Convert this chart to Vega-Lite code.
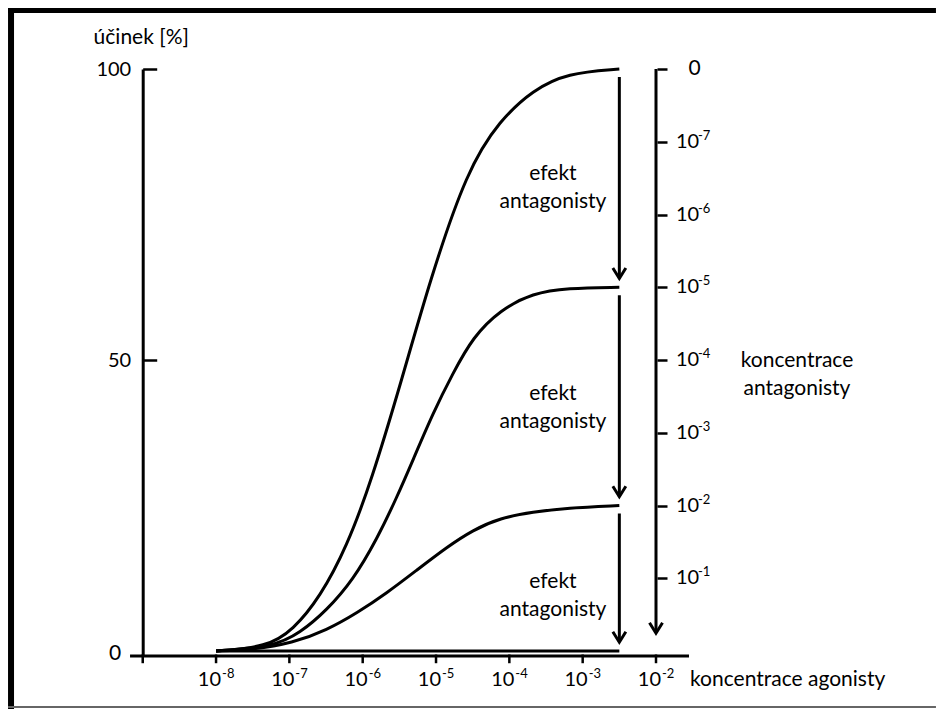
{
  "$schema": "https://vega.github.io/schema/vega-lite/v6.json",
  "width": 577,
  "height": 587,
  "autosize": {"type": "none"},
  "padding": {"left": 112, "top": 69, "right": 247, "bottom": 53},
  "background": "white",
  "config": {"view": {"stroke": null}, "font": "Lato", "text": {"font": "Lato", "color": "black"}},
  "resolve": {"axis": {"y": "independent"}},
  "datasets": {
    "curves": [
      {"s": "a", "L": -8, "v": 0}, {"s": "a", "L": -7.305, "v": 0.69}, {"s": "a", "L": -6.949, "v": 3.61}, {"s": "a", "L": -6.581, "v": 9.28},
      {"s": "a", "L": -6.218, "v": 17.87}, {"s": "a", "L": -5.877, "v": 29.38}, {"s": "a", "L": -5.468, "v": 46.56}, {"s": "a", "L": -5.082, "v": 63.75},
      {"s": "a", "L": -4.578, "v": 82.65}, {"s": "a", "L": -4.128, "v": 91.24}, {"s": "a", "L": -3.677, "v": 96.39}, {"s": "a", "L": -3.214, "v": 99.31},
      {"s": "a", "L": -2.5, "v": 100},
      {"s": "b", "L": -8, "v": 0}, {"s": "b", "L": -7.223, "v": 0.69}, {"s": "b", "L": -6.855, "v": 3.09}, {"s": "b", "L": -6.487, "v": 7.04},
      {"s": "b", "L": -6.132, "v": 12.2}, {"s": "b", "L": -5.812, "v": 19.07}, {"s": "b", "L": -5.532, "v": 26.46}, {"s": "b", "L": -5.314, "v": 32.82},
      {"s": "b", "L": -5.041, "v": 40.89}, {"s": "b", "L": -4.768, "v": 47.77}, {"s": "b", "L": -4.496, "v": 53.95}, {"s": "b", "L": -4.128, "v": 58.59},
      {"s": "b", "L": -3.677, "v": 61.51}, {"s": "b", "L": -3.214, "v": 62.37}, {"s": "b", "L": -2.5, "v": 62.5},
      {"s": "c", "L": -8, "v": 0}, {"s": "c", "L": -7.537, "v": 0.17}, {"s": "c", "L": -6.949, "v": 1.37}, {"s": "c", "L": -6.487, "v": 3.61},
      {"s": "c", "L": -6.078, "v": 6.53}, {"s": "c", "L": -5.669, "v": 9.97}, {"s": "c", "L": -5.26, "v": 13.92}, {"s": "c", "L": -4.85, "v": 17.87},
      {"s": "c", "L": -4.496, "v": 20.79}, {"s": "c", "L": -4.128, "v": 22.85}, {"s": "c", "L": -3.677, "v": 23.88}, {"s": "c", "L": -3.214, "v": 24.57},
      {"s": "c", "L": -2.5, "v": 25},
      {"s": "d", "L": -8, "v": 0}, {"s": "d", "L": -2.5, "v": 0}
    ],
    "arrows": [{"from": 100, "to": 62.5}, {"from": 62.5, "to": 25}, {"from": 25, "to": 0}],
    "xticks": [{"L": -9}, {"L": -8}, {"L": -7}, {"L": -6}, {"L": -5}, {"L": -4}, {"L": -3}, {"L": -2}],
    "xlab": [{"L": -8, "e": "-8"}, {"L": -7, "e": "-7"}, {"L": -6, "e": "-6"}, {"L": -5, "e": "-5"}, {"L": -4, "e": "-4"}, {"L": -3, "e": "-3"}, {"L": -2, "e": "-2"}],
    "rlab": [{"v": 87.5, "e": "-7"}, {"v": 75, "e": "-6"}, {"v": 62.5, "e": "-5"}, {"v": 50, "e": "-4"}, {"v": 37.5, "e": "-3"}, {"v": 25, "e": "-2"}, {"v": 12.5, "e": "-1"}],
    "notes": [
      {"t": "efekt\nantagonisty", "L": -3.405, "v": 81.96},
      {"t": "efekt\nantagonisty", "L": -3.405, "v": 44.16},
      {"t": "efekt\nantagonisty", "L": -3.405, "v": 11.77},
      {"t": "koncentrace\nantagonisty", "L": -0.077, "v": 49.83},
      {"t": "účinek [%]", "L": -9.02, "v": 105.3},
      {"t": "0", "L": -9.376, "v": -0.5},
      {"t": "0", "L": -1.475, "v": 100}
    ]
  },
  "layer": [
    {
      "data": {"name": "curves"},
      "mark": {"type": "line", "interpolate": "basis", "color": "black", "strokeWidth": 3},
      "encoding": {
        "x": {"field": "L", "type": "quantitative", "scale": {"domain": [-9.419, -1.55], "nice": false, "zero": false}, "axis": null},
        "y": {"field": "v", "type": "quantitative", "scale": {"domain": [-0.859, 100], "nice": false, "zero": false},
          "axis": {"orient": "left", "offset": -30.7, "values": [50, 100], "tickSize": -14, "tickWidth": 2.5, "tickColor": "black", "domainColor": "black", "domainWidth": 3, "labelPadding": 26, "labelFont": "Lato", "labelFontSize": 20, "labelColor": "black", "grid": false, "title": null}},
        "detail": {"field": "s", "type": "nominal"}
      }
    },
    {
      "data": {"values": [{}]},
      "mark": {"type": "rule", "color": "black", "strokeWidth": 3},
      "encoding": {"x": {"datum": -9.173, "axis": null}, "x2": {"datum": -1.55}, "y": {"datum": -0.859, "axis": null}}
    },
    {
      "data": {"name": "xticks"},
      "mark": {"type": "rule", "color": "black", "strokeWidth": 2.5},
      "encoding": {"x": {"field": "L", "type": "quantitative", "axis": null}, "y": {"datum": -0.6, "axis": null}, "y2": {"datum": -2.1}}
    },
    {
      "data": {"name": "arrows"},
      "mark": {"type": "rule", "color": "black", "strokeWidth": 3, "yOffset": 8, "y2Offset": -9},
      "encoding": {"x": {"datum": -2.5, "axis": null}, "y": {"field": "from", "type": "quantitative", "axis": null}, "y2": {"field": "to"}}
    },
    {
      "data": {"name": "arrows"},
      "mark": {"type": "point", "shape": "M-1,-0.8L0,0.8L1,-0.8", "size": 169, "filled": false, "color": "black", "strokeWidth": 3, "opacity": 1, "yOffset": -14},
      "encoding": {"x": {"datum": -2.5, "axis": null}, "y": {"field": "to", "type": "quantitative", "axis": null}}
    },
    {
      "data": {"values": [{}]},
      "mark": {"type": "rule", "color": "black", "strokeWidth": 3},
      "encoding": {"x": {"datum": -2, "axis": null}, "y": {"datum": 100, "axis": null}, "y2": {"datum": 3.09}}
    },
    {
      "data": {"values": [{}]},
      "mark": {"type": "point", "shape": "M-1,-0.8L0,0.8L1,-0.8", "size": 169, "filled": false, "color": "black", "strokeWidth": 3, "opacity": 1, "yOffset": -5},
      "encoding": {"x": {"datum": -2, "axis": null}, "y": {"datum": 3.09, "axis": null}}
    },
    {
      "data": {"name": "rlab"},
      "mark": {"type": "text", "align": "left", "baseline": "middle", "dx": 20, "fontSize": 20, "color": "black"},
      "encoding": {
        "x": {"datum": -2, "axis": null},
        "y": {"field": "v", "type": "quantitative",
          "axis": {"orient": "right", "offset": -32, "values": [100, 87.5, 75, 62.5, 50, 37.5, 25, 12.5], "labels": false, "domain": false, "tickSize": 10, "tickWidth": 2.5, "tickColor": "black", "grid": false, "title": null}},
        "text": {"value": "10"}
      }
    },
    {
      "data": {"name": "rlab"},
      "mark": {"type": "text", "align": "left", "baseline": "middle", "dx": 42, "dy": -6, "fontSize": 13, "color": "black"},
      "encoding": {"x": {"datum": -2, "axis": null}, "y": {"field": "v", "type": "quantitative", "axis": null}, "text": {"field": "e"}}
    },
    {
      "data": {"name": "xlab"},
      "mark": {"type": "text", "align": "right", "baseline": "middle", "dx": 5, "fontSize": 20, "color": "black"},
      "encoding": {"x": {"field": "L", "type": "quantitative", "axis": null}, "y": {"datum": -4.98, "axis": null}, "text": {"value": "10"}}
    },
    {
      "data": {"name": "xlab"},
      "mark": {"type": "text", "align": "left", "baseline": "middle", "dx": 6, "dy": -6, "fontSize": 13, "color": "black"},
      "encoding": {"x": {"field": "L", "type": "quantitative", "axis": null}, "y": {"datum": -4.98, "axis": null}, "text": {"field": "e"}}
    },
    {
      "data": {"name": "notes"},
      "mark": {"type": "text", "align": "center", "baseline": "middle", "fontSize": 21, "lineBreak": "\n", "lineHeight": 28, "color": "black"},
      "encoding": {"x": {"field": "L", "type": "quantitative", "axis": null}, "y": {"field": "v", "type": "quantitative", "axis": null}, "text": {"field": "t"}}
    },
    {
      "data": {"values": [{"t": "koncentrace agonisty"}]},
      "mark": {"type": "text", "align": "left", "baseline": "middle", "fontSize": 21, "color": "black"},
      "encoding": {"x": {"datum": -1.536, "axis": null}, "y": {"datum": -4.98, "axis": null}, "text": {"field": "t"}}
    },
    {
      "data": {"values": [{}]},
      "mark": {"type": "rule", "color": "black", "strokeWidth": 6},
      "encoding": {"x": {"datum": -10.796, "axis": null}, "y": {"datum": 110.48, "axis": null}, "y2": {"datum": -9.97}}
    },
    {
      "data": {"values": [{}]},
      "mark": {"type": "rule", "color": "black", "strokeWidth": 5},
      "encoding": {"x": {"datum": -10.837, "axis": null}, "x2": {"datum": 1.818}, "y": {"datum": 110.05, "axis": null}}
    },
    {
      "data": {"values": [{}]},
      "mark": {"type": "rule", "color": "#666666", "strokeWidth": 2},
      "encoding": {"x": {"datum": -10.837, "axis": null}, "x2": {"datum": 1.818}, "y": {"datum": -9.62, "axis": null}}
    }
  ]
}
